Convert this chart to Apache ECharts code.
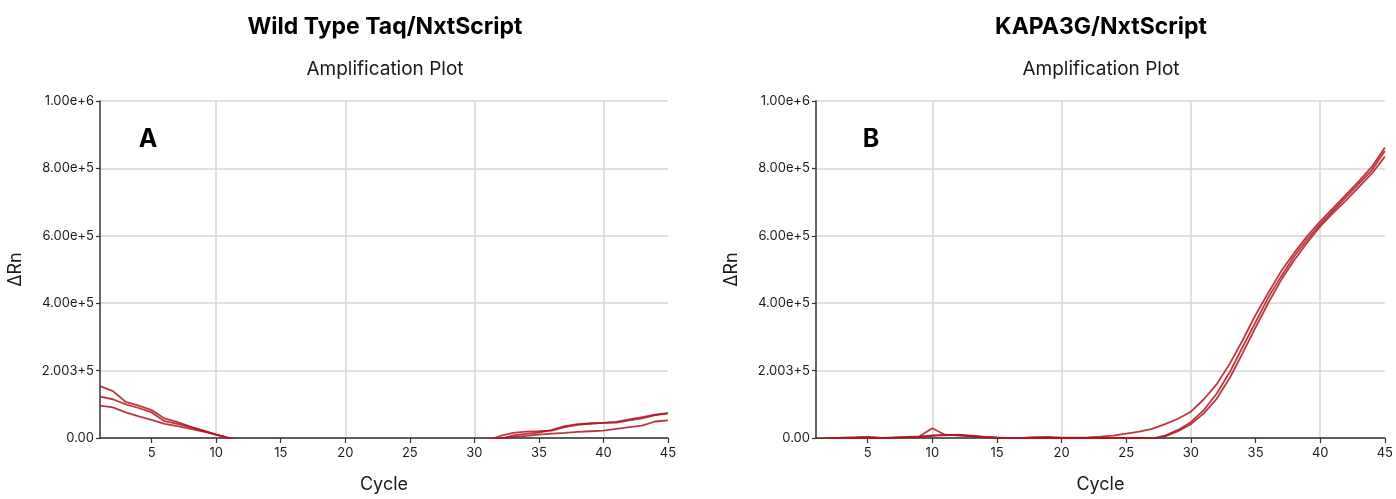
<!DOCTYPE html>
<html>
<head>
<meta charset="utf-8">
<script src="https://cdn.jsdelivr.net/npm/echarts@6/dist/echarts.min.js"></script>
<style>
html,body{margin:0;padding:0;background:#fff;}
#chart{width:1396px;height:499px;}
</style>
</head>
<body>
<div id="chart"></div>
<script>
// ---------- data ----------
const cycles = [1,2,3,4,5,6,7,8,9,10,11,12,13,14,15,16,17,18,19,20,21,22,23,24,25,26,27,28,29,30,31,32,33,34,35,36,37,38,39,40,41,42,43,44,45];
const yTickLabels = ["0.00","2.003+5","4.00e+5","6.00e+5","8.00e+5","1.00e+6"];

// Panel A: Wild Type Taq/NxtScript (ΔRn per cycle; values below 0 are clipped by the axis)
const wtTaq1 = [154000,139000,107000,96000,83000,58000,47000,34000,22000,10000,0,-12000,-15000,-16000,-15000,-17000,-16000,-15000,-16000,-17000,-16000,-15000,-16000,-15000,-14000,-15000,-14000,-13000,-12000,-11000,-8000,6000,15000,19000,20000,22000,32000,39000,43000,45000,46000,52000,58000,68000,73000];
const wtTaq2 = [123000,115000,100000,89000,76000,50000,42000,32000,22000,10000,0,-10000,-13000,-14000,-14000,-15000,-14000,-14000,-15000,-14000,-13000,-14000,-13000,-12000,-12000,-11000,-11000,-10000,-9000,-8000,-6000,-3000,8000,12000,16000,24000,35000,41000,43000,45000,48000,55000,62000,69000,74000];
const wtTaq3 = [96000,91000,76000,64000,54000,42000,35000,27000,19000,10000,0,-8000,-10000,-11000,-12000,-12000,-13000,-12000,-12000,-11000,-11000,-12000,-11000,-10000,-10000,-9000,-9000,-8000,-7000,-6000,-4000,-1000,3000,6000,10000,13000,15000,18000,20000,22000,27000,32000,37000,49000,52000];

// Panel B: KAPA3G/NxtScript
const kapa1 = [-5000,-2000,1000,2000,3000,0,1000,3000,5000,29000,9000,8000,6000,3000,1000,0,0,2000,3000,1000,1000,2000,4000,7000,13000,19000,27000,41000,57000,78000,115000,160000,220000,290000,365000,432000,496000,550000,599000,643000,682000,722000,762000,805000,862000];
const kapa2 = [-5000,-2000,0,1000,2000,0,1000,2000,4000,8000,8000,10000,7000,3000,1000,0,0,1000,1000,0,0,0,0,0,0,0,-2000,7000,24000,47000,83000,132000,195000,270000,344000,418000,481000,540000,589000,635000,675000,715000,755000,795000,852000];
const kapa3 = [-5000,-2000,0,0,1000,0,1000,2000,3000,6000,10000,8000,5000,2000,1000,0,0,2000,0,0,0,0,0,0,0,0,-3000,5000,20000,41000,73000,117000,178000,252000,328000,402000,470000,528000,580000,628000,668000,705000,745000,785000,835000];

const panelTitles = ["Wild Type Taq/NxtScript","KAPA3G/NxtScript"];
const panelSub = "Amplification Plot";
const panelLetters = ["A","B"];

// ---------- styles ----------
const FONT = "Inter, 'Liberation Sans', sans-serif";
const lineColor = "#b0141f";
const textColor = "#1a1a1a";

const grids = [
  {left:100, right:728, top:101, bottom:56},
  {left:816, right:10, top:101, bottom:56}
];

function xAxis(gi){
  return {
    type:'category', gridIndex:gi, data:cycles, boundaryGap:false,
    name:'Cycle', nameLocation:'middle', nameGap:38,
    nameTextStyle:{fontFamily:FONT, fontSize:18, color:textColor},
    axisLine:{lineStyle:{color:'#333', width:1.5}},
    axisTick:{show:true, length:5, interval:(i,v)=>Number(v)%5===0, lineStyle:{color:'#333', width:1.2}},
    axisLabel:{interval:(i,v)=>Number(v)%5===0, fontFamily:FONT, fontSize:13, color:textColor, margin:9},
    splitLine:{show:true, interval:(i,v)=>Number(v)%10===0, lineStyle:{color:'#d6d6d6', width:1.5}}
  };
}
function yAxis(gi){
  return {
    type:'value', gridIndex:gi, min:0, max:1000000, interval:200000,
    name:'ΔRn', nameLocation:'middle', nameGap:75, nameRotate:90,
    nameTextStyle:{fontFamily:FONT, fontSize:18, color:textColor},
    axisLine:{show:true, lineStyle:{color:'#333', width:1.5}},
    axisTick:{show:true, length:4, lineStyle:{color:'#333', width:1.2}},
    axisLabel:{formatter:(v)=>yTickLabels[Math.round(v/200000)], fontFamily:FONT, fontSize:13, color:textColor, margin:6},
    splitLine:{show:true, lineStyle:{color:'#d6d6d6', width:1.5}}
  };
}
function line(data, gi){
  return {
    type:'line', xAxisIndex:gi, yAxisIndex:gi, data:data, symbol:'none',
    clip:true, smooth:false, silent:true,
    lineStyle:{color:lineColor, width:1.8, opacity:0.85}
  };
}

const centers = [385, 1101];
const letterX = [148, 871];
const graphics = [];
for (let i=0;i<2;i++){
  graphics.push({type:'text', x:centers[i], y:27, style:{text:panelTitles[i], font:"bold 23px "+FONT, fill:'#000', textAlign:'center', textVerticalAlign:'middle'}});
  graphics.push({type:'text', x:centers[i], y:69, style:{text:panelSub, font:"19px "+FONT, fill:textColor, textAlign:'center', textVerticalAlign:'middle'}});
  graphics.push({type:'text', x:letterX[i], y:139, style:{text:panelLetters[i], font:"bold 25px "+FONT, fill:'#000', textAlign:'center', textVerticalAlign:'middle'}});
}

const chart = echarts.init(document.getElementById('chart'), null, {renderer:'canvas'});
chart.setOption({
  animation:false,
  backgroundColor:'#fff',
  grid:grids,
  xAxis:[xAxis(0), xAxis(1)],
  yAxis:[yAxis(0), yAxis(1)],
  series:[
    line(wtTaq1,0), line(wtTaq2,0), line(wtTaq3,0),
    line(kapa1,1), line(kapa2,1), line(kapa3,1)
  ],
  graphic:graphics
});
</script>
</body>
</html>
